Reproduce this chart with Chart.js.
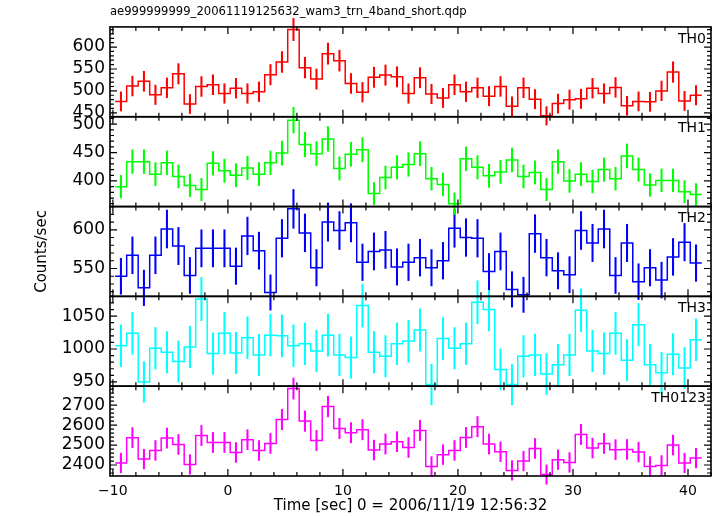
<!DOCTYPE html>
<html lang="en">
<head>
  <meta charset="UTF-8">
  <title>WAM light curve</title>
  <script src="https://cdn.jsdelivr.net/npm/chart.js@4"></script>
  <style>
    html, body { margin: 0; padding: 0; background: #fff; }
    #wrap { width: 717px; height: 516px; }
  </style>
</head>
<body>
  <div id="wrap"><canvas id="lc"></canvas></div>

  <script>
    // 1 s bins, first bin centred at -9.3 s
    const binStart = -9.3;
    const binWidth = 1;

    const bands = ['TH0', 'TH1', 'TH2', 'TH3', 'TH0123'];
    const colors = ['#ff0000', '#00ff00', '#0000ff', '#00ffff', '#ff00ff'];

    // count rates (counts/sec)
    const th0 = [476, 511, 522, 491, 507, 539, 470, 510, 514, 494, 506, 494, 498, 537, 566, 640, 553, 527, 585, 569, 517, 497, 531, 536,
                 532, 494, 530, 493, 484, 514, 498, 507, 488, 510, 465, 507, 481, 443, 471, 480, 482, 506, 494, 508, 466, 476, 475, 500, 543, 477, 490];
    const th1 = [390, 434, 434, 412, 432, 408, 392, 385, 431, 418, 410, 423, 412, 432, 449, 507, 464, 448, 474, 422, 447, 455, 378, 406,
                 424, 429, 448, 404, 394, 360, 439, 424, 409, 416, 437, 408, 415, 385, 434, 400, 412, 399, 420, 404, 444, 420, 393, 401, 401, 381, 376];
    const th2 = [540, 567, 525, 567, 601, 579, 541, 576, 576, 576, 553, 592, 573, 519, 589, 627, 596, 551, 610, 599, 609, 558, 572, 574,
                 552, 558, 564, 551, 560, 602, 590, 589, 546, 572, 523, 516, 595, 564, 547, 542, 599, 583, 601, 541, 583, 533, 551, 535, 565, 584, 557];
    const th3 = [1005, 1024, 950, 1001, 995, 981, 1003, 1076, 993, 1024, 994, 1017, 991, 1021, 1020, 1005, 1008, 997, 1021, 991, 987, 1066, 995, 989,
                 1008, 1012, 1029, 946, 1016, 1001, 1008, 1071, 1060, 969, 946, 989, 991, 962, 976, 991, 1059, 997, 993, 1024, 983, 1037, 976, 964, 992, 971, 1014];
    const th0123 = [2410, 2537, 2430, 2473, 2535, 2503, 2403, 2548, 2513, 2513, 2463, 2527, 2473, 2508, 2628, 2783, 2620, 2523, 2693, 2583, 2562, 2577, 2475, 2505,
                    2517, 2488, 2573, 2393, 2452, 2473, 2538, 2592, 2505, 2467, 2373, 2420, 2483, 2352, 2427, 2413, 2553, 2485, 2508, 2477, 2478, 2465, 2393, 2398, 2500, 2410, 2435];
    const rates = [th0, th1, th2, th3, th0123];

    // axis ranges and tick spacing per panel
    const yMin = [441, 355, 514, 943.5, 2345];
    const yMax = [646, 513, 630, 1080, 2795];
    const yStep = [50, 50, 50, 50, 100];
    const yMinor = [10, 10, 10, 10, 20];
    const xMin = -10.25, xMax = 42;

    const FONT = 'DejaVu Sans';

    const datasets = [];
    rates.forEach((r, i) => {
      // histogram outline: left bin edges plus the closing right edge
      const steps = r.map((v, k) => ({ x: binStart - binWidth / 2 + k * binWidth, y: v }));
      steps.push({ x: binStart + binWidth / 2 + (r.length - 1) * binWidth, y: r[r.length - 1] });
      datasets.push({
        type: 'line',
        label: bands[i],
        data: steps,
        yAxisID: 'y' + i,
        stepped: true,
        borderColor: colors[i],
        borderWidth: 1.5,
        pointRadius: 0,
        fill: false
      });
      // Poisson errors for 1 s bins
      datasets.push({
        type: 'bar',
        label: bands[i] + ' err',
        data: r.map((v, k) => {
          const e = Math.sqrt(v / binWidth);
          return { x: binStart + k * binWidth, y: [v - e, v + e] };
        }),
        yAxisID: 'y' + i,
        grouped: false,
        barThickness: 1.4,
        backgroundColor: colors[i],
        borderWidth: 0,
        clip: false
      });
    });

    const scales = {
      x: {
        type: 'linear',
        min: xMin,
        max: xMax,
        offset: false,
        grid: { display: false, drawTicks: false },
        border: { display: false },
        ticks: {
          stepSize: 10,
          includeBounds: false,
          autoSkip: false,
          maxRotation: 0,
          padding: 7,
          color: '#000',
          font: { family: FONT, size: 14 },
          callback: v => v < 0 ? '\u2212' + Math.abs(v) : String(v)
        },
        title: {
          display: true,
          text: 'Time [sec] 0 = 2006/11/19 12:56:32',
          color: '#000',
          font: { family: FONT, size: 15 },
          padding: { top: 0, bottom: 1 }
        },
        afterFit: s => { s.height = 40; }
      }
    };
    // stacked axes are laid out bottom-up, so add TH0123 first
    for (let i = bands.length - 1; i >= 0; i--) {
      scales['y' + i] = {
        type: 'linear',
        position: 'left',
        stack: 'panels',
        stackWeight: 1,
        min: yMin[i],
        max: yMax[i],
        offset: false,
        grid: { display: false, drawTicks: false },
        border: { display: false },
        ticks: {
          stepSize: yStep[i],
          includeBounds: false,
          autoSkip: false,
          padding: 5,
          color: '#000',
          font: { family: FONT, size: 17 },
          callback: v => String(v)
        },
        title: {
          display: i === 2,
          text: 'Counts/sec',
          color: '#000',
          font: { family: FONT, size: 15 },
          padding: { top: 33, bottom: 0 }
        },
        afterFit: s => { s.width = 110; }
      };
    }

    // panel frames, inward ticks and band names
    const frames = {
      id: 'frames',
      afterDatasetsDraw(chart) {
        const { ctx, chartArea: a, scales: sc } = chart;
        const xs = sc.x;
        ctx.save();
        ctx.strokeStyle = '#000';
        bands.forEach((b, i) => {
          const ys = sc['y' + i];
          const top = ys.top, bot = ys.bottom;
          ctx.lineWidth = 1.2;
          ctx.beginPath();
          for (let t = Math.ceil(xs.min / 2) * 2; t <= xs.max; t += 2) {
            const px = xs.getPixelForValue(t);
            const len = t % 10 === 0 ? 7 : 4;
            ctx.moveTo(px, top); ctx.lineTo(px, top + len);
            ctx.moveTo(px, bot); ctx.lineTo(px, bot - len);
          }
          for (let v = Math.ceil(ys.min / yMinor[i]) * yMinor[i]; v <= ys.max; v += yMinor[i]) {
            const py = ys.getPixelForValue(v);
            const len = v % yStep[i] === 0 ? 7 : 4;
            ctx.moveTo(a.left, py); ctx.lineTo(a.left + len, py);
            ctx.moveTo(a.right, py); ctx.lineTo(a.right - len, py);
          }
          ctx.stroke();
          ctx.lineWidth = 1.6;
          ctx.strokeRect(a.left, top, a.right - a.left, bot - top);
          ctx.fillStyle = '#000';
          ctx.font = '14px "' + FONT + '"';
          ctx.textAlign = 'right';
          ctx.textBaseline = 'top';
          ctx.fillText(b, a.right - 5, top + 5);
        });
        ctx.restore();
      }
    };

    new Chart(document.getElementById('lc'), {
      type: 'line',
      data: { datasets: datasets },
      options: {
        responsive: true,
        maintainAspectRatio: false,
        animation: false,
        layout: { padding: { left: 0, right: 6, top: 0, bottom: 0 } },
        scales: scales,
        plugins: {
          legend: { display: false },
          tooltip: { enabled: false },
          title: {
            display: true,
            text: 'ae999999999_20061119125632_wam3_trn_4band_short.qdp',
            align: 'start',
            fullSize: false,
            color: '#000',
            font: { family: FONT, size: 11.6, weight: 'normal' },
            padding: { top: 5, bottom: 8 }
          }
        }
      },
      plugins: [frames]
    });
  </script>
</body>
</html>
